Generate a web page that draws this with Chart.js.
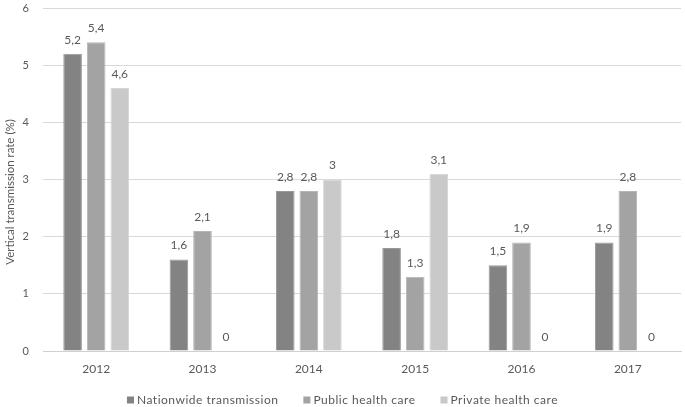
<!DOCTYPE html>
<html>
<head>
<meta charset="utf-8">
<script src="https://cdn.jsdelivr.net/npm/chart.js@4/dist/chart.umd.min.js"></script>
<style>
html,body{margin:0;padding:0;background:#fff;}
#wrap{width:685px;height:407px;position:relative;}
</style>
</head>
<body>
<div id="wrap"><canvas id="c" width="685" height="407"></canvas></div>
<script>
const years = ["2012","2013","2014","2015","2016","2017"];
const nationwide = [5.2, 1.6, 2.8, 1.8, 1.5, 1.9];
const publicCare = [5.4, 2.1, 2.8, 1.3, 1.9, 2.8];
const privateCare = [4.6, 0, 3, 3.1, 0, 0];
const seriesNames = ["Nationwide transmission", "Public health care", "Private health care"];
const yTicks = [0, 1, 2, 3, 4, 5, 6];
const yTitle = "Vertical transmission rate (%)";

const FONT = "Lato, 'Open Sans', sans-serif";
const TXT = "#595959";
const COLORS = ['#838383', '#a3a3a3', '#c9c9c9'];
const BORDERS = ['#999999', '#b5b5b5', '#d6d6d6'];

const labelPlugin = {
  id: 'barLabels',
  afterDatasetsDraw(chart) {
    const ctx = chart.ctx;
    ctx.save();
    ctx.font = "12px " + FONT;
    ctx.fillStyle = TXT;
    ctx.textAlign = 'center';
    ctx.textBaseline = 'middle';
    chart.data.datasets.forEach((ds, i) => {
      const meta = chart.getDatasetMeta(i);
      meta.data.forEach((bar, j) => {
        const v = ds.data[j];
        const txt = String(v).replace('.', ',');
        ctx.fillText(txt, bar.x, bar.y - 14);
      });
    });
    ctx.restore();
  }
};

const extrasPlugin = {
  id: 'extras',
  afterDraw(chart) {
    const ctx = chart.ctx;
    ctx.save();
    // y axis title
    ctx.font = "11.5px " + FONT;
    ctx.fillStyle = TXT;
    ctx.textAlign = 'center';
    ctx.textBaseline = 'middle';
    ctx.translate(10, 192);
    ctx.rotate(-Math.PI / 2);
    ctx.fillText(yTitle, 0, 0);
    ctx.restore();

    // legend
    ctx.save();
    ctx.font = "12px " + FONT;
    ctx.letterSpacing = "0.5px";
    ctx.textBaseline = 'middle';
    ctx.textAlign = 'left';
    const box = 7, gap = 3, spacing = 25, cy = 400;
    const widths = chart.data.datasets.map(ds => ctx.measureText(ds.label).width);
    let total = widths.reduce((a, w) => a + box + gap + w, 0) + spacing * (widths.length - 1);
    let x = chart.width / 2 - total / 2;
    chart.data.datasets.forEach((ds, i) => {
      ctx.fillStyle = ds.backgroundColor;
      ctx.fillRect(x, cy - box / 2, box, box);
      ctx.fillStyle = TXT;
      ctx.fillText(ds.label, x + box + gap, cy);
      x += box + gap + widths[i] + spacing;
    });
    ctx.restore();
  }
};

new Chart(document.getElementById('c'), {
  type: 'bar',
  data: {
    labels: years,
    datasets: [
      {label: seriesNames[0], data: nationwide, backgroundColor: COLORS[0], borderColor: BORDERS[0]},
      {label: seriesNames[1], data: publicCare, backgroundColor: COLORS[1], borderColor: BORDERS[1]},
      {label: seriesNames[2], data: privateCare, backgroundColor: COLORS[2], borderColor: BORDERS[2]}
    ]
  },
  options: {
    responsive: false,
    animation: false,
    devicePixelRatio: 1,
    layout: {padding: {top: 8, right: 4, left: 0, bottom: 26}},
    datasets: {bar: {categoryPercentage: 0.665, barPercentage: 0.79, borderWidth: 1}},
    plugins: {
      legend: {display: false},
      tooltip: {enabled: false}
    },
    scales: {
      x: {
        grid: {display: false, drawTicks: false},
        border: {display: true, color: '#d0d0d0', width: 1},
        ticks: {color: TXT, font: {family: FONT, size: 12}, padding: 11},
        afterFit(s) { s.height = 30; }
      },
      y: {
        min: 0, max: 6,
        afterBuildTicks(s) { s.ticks = yTicks.map(v => ({value: v})); },
        grid: {color: '#d9d9d9', drawTicks: false},
        border: {display: false},
        ticks: {color: TXT, font: {family: FONT, size: 11}, padding: 14},
        afterFit(s) { s.width = 43; s.paddingTop = 0; s.paddingBottom = 0; }
      }
    }
  },
  plugins: [labelPlugin, extrasPlugin]
});
</script>
</body>
</html>
